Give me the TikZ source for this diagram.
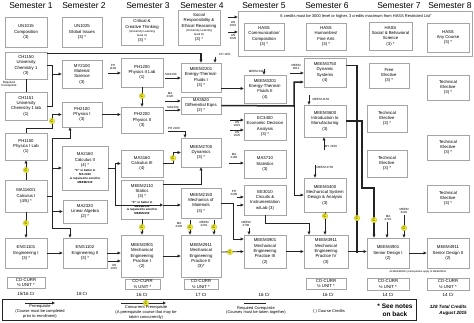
\documentclass[tikz,border=0pt]{standalone}
\usepackage{fontspec}
\setmainfont{Liberation Sans}
\usetikzlibrary{arrows.meta}
\definecolor{cyel}{RGB}{240,236,40}
\definecolor{bord}{RGB}{165,165,165}
\definecolor{lnc}{RGB}{35,35,35}
\newcommand\bx[6]{\node[box,minimum width={(#4-#2)*1pt},minimum height={(#5-#3)*1pt}] (#1) at ({(#2+#4)/2},{(#3+#5)/2}) {#6};}
\newcommand\sm[1]{{\fontsize{2.9}{3.3}\selectfont\bfseries #1}}
\newcommand\sx[1]{{\fontsize{2.9}{3.3}\selectfont #1}}
\begin{document}
\begin{tikzpicture}[x=1pt,y=-1pt,
 box/.style={draw=bord,line width=0.8pt,fill=white,align=center,inner sep=0pt,font=\fontsize{4.3}{5.3}\selectfont},
 ln/.style={draw=lnc,line width=0.8pt},
 arr/.style={ln,-{Triangle[length=3pt,width=2.8pt]}},
 thk/.style={line width=1.5pt},
 cc/.style={circle,fill=cyel,draw=cyel!80!black,line width=0.3pt,inner sep=0pt,minimum size=5.5pt,font=\fontsize{3.6}{4}\selectfont},
 lab/.style={font=\fontsize{3}{3.4}\selectfont,align=center,inner sep=0pt},
 hdr/.style={font=\fontsize{8.5}{10}\selectfont,inner sep=0pt},
 cr/.style={font=\fontsize{4.5}{5}\selectfont,inner sep=0pt},
 leg/.style={font=\fontsize{4}{4.9}\selectfont,align=center,inner sep=0pt}]
\useasboundingbox[fill=white] (0,0) rectangle (474,322);

% headers
\node[hdr] (h1) at (31,6) {Semester 1};
\node[hdr] (h2) at (84,6) {Semester 2};
\node[hdr] (h3) at (148,6) {Semester 3};
\node[hdr] (h4) at (202,6) {Semester 4};
\node[hdr] (h5) at (264,6) {Semester 5};
\node[hdr] (h6) at (327,6) {Semester 6};
\node[hdr] (h7) at (399,6) {Semester 7};
\node[hdr] (h8) at (450,6) {Semester 8};

% HASS group
\node[draw=bord,line width=0.8pt,minimum width=234pt,minimum height=45pt,inner sep=0pt] (hass) at (355,33.5) {};
\node[font=\fontsize{4}{5}\selectfont,inner sep=0pt] (hnote) at (356,16) {6 credits must be 3000 level or higher, 3 credits maximum from HASS Restricted List"};

% Semester 1
\bx{UN1015}{5}{17}{47}{47}{UN1015\\Composition\\(3)}
\bx{CH1150}{5}{52}{47}{79}{CH1150\\University\\Chemistry 1\\(3)}
\bx{CH1151}{5}{92}{47}{120}{CH1151\\University\\Chemistry 1 lab\\(1)}
\bx{PH1100}{5}{133}{47}{160}{PH1100\\Physics I Lab\\(1)}
\bx{MA1160}{5}{180}{47}{212}{MA1160/1\\Calculus I\\(4/5) *}
\bx{ENG1101}{5}{238}{47}{268}{ENG1101\\Engineering I\\(3) *}
\bx{CC1}{7}{277}{45}{288}{CO-CURR\\½ UNIT *}
% Semester 2
\bx{UN1025}{62}{17}{102}{47}{UN1025\\Global Issues\\(3) *}
\bx{MY2100}{62}{60}{102}{88}{MY2100\\Material\\Science\\(3)}
\bx{PH2100}{62}{102}{102}{127}{PH2100\\Physics I\\(3)}
\bx{MA2160}{62}{146}{108}{190}{MA2160\\Calculus II\\(4) *\\\sm{``C'' or better in}\\[-1.5pt]\sm{MA 2160}\\[-1.5pt]\sm{is required to enroll in}\\[-1.5pt]\sm{MEEM2110}}
\bx{MA2320}{63}{200}{107}{223}{MA2320\\Linear Algebra\\(2) *}
\bx{ENG1102}{63}{238}{107}{268}{ENG1102\\Engineering II\\(3) *}
% Semester 3
\bx{CCT}{121}{17}{163}{45}{Critical \&\\Creative Thinking\\[-1pt]\sx{(University Learning}\\[-1.5pt]\sx{Goal 4)}\\(3) *}
\bx{PH1200}{121}{58}{163}{87}{PH1200\\Physics II Lab\\(1)}
\bx{PH2200}{121}{107}{163}{133}{PH2200\\Physics II\\(3)}
\bx{MA3160}{121}{150}{163}{177}{MA3160\\Calculus III\\(4)}
\bx{MEEM2110}{121}{180}{163}{219}{MEEM2110\\Statics\\(3) *\\\sm{``C'' or better in}\\[-1.5pt]\sm{MEEM2110}\\[-1.5pt]\sm{is required to enroll in}\\[-1.5pt]\sm{MEEM2150}}
\bx{MEEM2901}{121}{235}{163}{277}{MEEM2901\\Mechanical\\Engineering\\Practice I\\(2)}
\bx{CC3}{125}{279}{160}{289}{CO-CURR\\½ UNIT *}
% Semester 4
\bx{SRE}{178}{10}{220}{45}{Social\\Responsibility \&\\Ethical Reasoning\\[-1pt]\sx{(University Learning}\\[-1.5pt]\sx{Goal 8)}\\(3) *}
\bx{MEEM2201}{181}{63}{221}{92}{MEEM2201\\Energy-Thermal-\\Fluids I\\(3) *}
\bx{MA3520}{181}{97}{221}{114}{MA3520\\[-0.6pt]Differential Eqns\\[-0.6pt](2) *}
\bx{MEEM2700}{181}{138}{221}{167}{MEEM2700\\Dynamics\\(3) *}
\bx{MEEM2150}{181}{188}{221}{218}{MEEM2150\\Mechanics of\\Materials\\(3) *}
\bx{MEEM2911}{181}{235}{221}{277}{MEEM2911\\Mechanical\\Engineering\\Practice II\\(3)*}
\bx{CC4}{184}{279}{218}{289}{CO-CURR\\½ UNIT *}
% Semester 5
\bx{HCC}{244}{23}{284}{50}{HASS\\Communication/\\Composition\\(3) *}
\bx{MEEM3201}{244}{75}{286}{103}{MEEM3201\\Energy-Thermal-\\Fluids II\\(4)}
\bx{EC3400}{244}{113}{286}{140}{EC3400\\Economic Decision\\Analysis\\(3) *}
\bx{MA3710}{244}{150}{286}{178}{MA3710\\Statistics\\(3)}
\bx{EE3010}{244}{185}{286}{215}{EE3010\\Circuits \&\\Instrumentation\\w/Lab (3)}
\bx{MEEM3901}{244}{235}{286}{268}{MEEM3901\\Mechanical\\Engineering\\Practice III\\(2)}
% Semester 6
\bx{HHF}{306}{23}{346}{50}{HASS\\Humanities/\\Fine Arts\\(3) *}
\bx{MEEM3750}{304}{58}{346}{87}{MEEM3750\\Dynamic\\Systems\\(4)}
\bx{MEEM3600}{304}{105}{346}{137}{MEEM3600\\Introduction to\\Manufacturing\\(3)}
\bx{MEEM3400}{304}{178}{346}{212}{MEEM3400\\Mechanical System\\Design \& Analysis\\(3)}
\bx{MEEM3911}{304}{235}{348}{268}{MEEM3911\\Mechanical\\Engineering\\Practice IV\\(3)}
\bx{CC6}{306}{278}{346}{289}{CO-CURR\\½ UNIT *}
% Semester 7
\bx{HSB}{369}{22}{412}{50}{HASS\\Social \& Behavioral\\Science\\(3) *}
\bx{FE}{369}{63}{409}{88}{Free\\Elective\\(3) *}
\bx{TE1}{367}{105}{407}{132}{Technical\\Elective\\(3) *}
\bx{TE2}{367}{150}{407}{177}{Technical\\Elective\\(3) *}
\bx{MEEM4901}{367}{238}{409}{268}{MEEM4901\\Senior Design I\\(2)}
\bx{CC7}{367}{278}{409}{290}{CO-CURR\\½ UNIT *}
% Semester 8
\bx{HAC}{427}{23}{469}{52}{HASS\\Any Course\\(3) *}
\bx{TE3}{427}{75}{469}{100}{Technical\\Elective\\(3) *}
\bx{TE4}{427}{135}{469}{160}{Technical\\Elective\\(3) *}
\bx{TE5}{427}{185}{469}{212}{Technical\\Elective\\(3) *}
\bx{MEEM4911}{427}{238}{469}{268}{MEEM4911\\Senior Design II\\(2)}
\bx{CC8}{427}{278}{469}{290}{CO-CURR\\½ UNIT *}

% credits
\node[cr] (cr1) at (26,294) {15/16 Cr};
\node[cr] (cr2) at (82,294) {18 Cr};
\node[cr] (cr3) at (142,295) {16 Cr};
\node[cr] (cr4) at (201,295) {17 Cr};
\node[cr] (cr5) at (264,295) {16 Cr};
\node[cr] (cr6) at (328,295) {16 Cr};
\node[cr] (cr7) at (388,295) {14 Cr};
\node[cr] (cr8) at (448,295) {14 Cr};

% small labels
\node[lab] (lrc) at (9,84) {Required\\Corequisite};
\node[lab] (lch) at (225,54) {CH 1151};
\node[lab] (lph11) at (113,67) {PH\\1100};
\node[lab] (lma1) at (171,74) {MA2160};
\node[lab] (lma2) at (170,95) {MA\\2320};
\node[lab] (lma3) at (173,107) {MA2160};
\node[lab] (lph21) at (174,128) {PH 2100};
\node[lab] (lun15) at (114,267) {UN\\1015};
\node[lab] (lun15b) at (233,24) {UN\\1015};
\node[lab] (lun25b) at (233,37) {UN\\1025};
\node[lab] (lm29) at (257,71) {MEEM 2911};
\node[lab] (lm29b) at (296,67) {MEEM\\2911};
\node[lab] (lec1) at (237,124) {UN\\1015};
\node[lab] (lec2) at (237,134) {UN\\1025};
\node[lab] (lma4) at (234,156) {MA\\2160};
\node[lab] (lph22) at (234,193) {PH\\2200};
\node[lab] (lm215) at (321,99) {MEEM 2150};
\node[lab] (lmy) at (331,146) {MY 2100};
\node[lab] (lm27) at (325,167) {MEEM 2700};
\node[lab] (lma5) at (179,225) {MA\\2320};
\node[lab] (lm22) at (204,224) {MEEM\\2201};
\node[lab] (lm27b) at (246,224) {MEEM\\2700};
\node[lab] (lma6) at (388,218) {MA\\3710};
\node[lab] (lm32) at (404,211) {MEEM\\3201};
\node[lab,font=\fontsize{2.6}{3}\selectfont] (lall) at (418,271.5) {All MEEM4901 prerequisites apply to MEEM4911};

% coordinates
\coordinate (bx1) at (52,0);
\coordinate (pch) at (215,57);
\coordinate (p1) at (26,128);
\coordinate (p2) at (52,128);
\coordinate (m1) at (52,138);
\coordinate (m2) at (70,138);
\coordinate (m3) at (52,228);
\coordinate (m4) at (70,228);
\coordinate (q0) at (115,0);
\coordinate (u1) at (108,261);
\coordinate (ph1) at (108,73);
\coordinate (r1) at (165,78);
\coordinate (r2) at (165,101);
\coordinate (r3) at (165,110);
\coordinate (s1) at (168,131);
\coordinate (s2) at (173,0);
\coordinate (t1) at (163,184);
\coordinate (t2) at (163,205);
\coordinate (k1) at (233,0);
\coordinate (k2) at (233,239);
\coordinate (g1) at (294,0);
\coordinate (g2) at (294,106);
\coordinate (e1) at (309,223);
\coordinate (v1) at (357,253);
\coordinate (w1) at (362,188);
\coordinate (w2) at (374,188);
\coordinate (z1) at (387,222);
\coordinate (z2) at (404,215);
\coordinate (a1) at (190,220);
\coordinate (a2) at (214,220);
\coordinate (a3) at (249,228);
\coordinate (hu1) at (228,17);
\coordinate (hu2) at (228,32);
\coordinate (ec1) at (230,120);
\coordinate (ec2) at (230,130);
\coordinate (ma7) at (229,163);
\coordinate (ee1) at (237,197);
\coordinate (ee2) at (237,205);
\coordinate (x1) at (264,69);
\coordinate (x2) at (290,73);
\coordinate (y1) at (309,95);
\coordinate (y2) at (324,150);
\coordinate (y3) at (315,165);

% connectors
\draw[arr,thk] ([yshift=-2pt]CH1150.north east) -| (MEEM2201.north);
\draw[arr] (pch) -- (pch |- MEEM2201.north);
\draw[ln] (CH1150.east) -| (bx1 |- CH1151.east) -- (CH1151.east);
\draw[arr] (MY2100.west -| bx1) -- (MY2100.west);
\draw[ln] (CH1150.south) -- (CH1151.north);
\draw[arr] (MA1160.north) -- (PH1100.south);
\draw[arr] (PH1100.north) -- (p1) -- (p2) -- (p2 |- PH2100.west) -- (PH2100.west);
\draw[ln] (MA1160.east) -- (MA1160.east -| m1);
\draw[ln] (m1) -- (m3);
\draw[arr] (m1) -- (m2) -- (m2 |- PH2100.south);
\draw[arr] (MA2160.west -| m1) -- (MA2160.west);
\draw[arr] (MA2320.west -| m1) -- (MA2320.west);
\draw[arr] (m3) -- (m4) -- (m4 |- ENG1102.north);
\draw[arr] (MA1160.south) -- (ENG1101.north);
\draw[arr] (ENG1101.east) -- (ENG1102.west);
\draw[arr] (ENG1102.east) -- (ENG1102.east -| MEEM2901.west);
\draw[arr] (u1) -- (u1 -| MEEM2901.west);
\draw[arr] (PH2100.east) -- (PH2100.east -| PH2200.west);
\draw[arr] (ph1) -- (ph1 -| PH1200.west);
\draw[arr] (PH1200.south) -- (PH2200.north);
\draw[ln] (MA2160.east) -- (MA2160.east -| q0);
\draw[ln] (q0 |- MA3160.west) -- (q0 |- t2);
\draw[arr] (q0 |- MA3160.west) -- (MA3160.west);
\draw[arr] (q0 |- t2) -- (t2);
\draw[arr] (r1) -- (r1 -| MEEM2201.west);
\draw[arr] (r2) -- (r2 -| MA3520.west);
\draw[arr] (r3) -- (r3 -| MA3520.west);
\draw[arr] (s1) -| ([xshift=-16pt]MEEM2700.north);
\draw[arr] (MA3160.east) -| (s2 |- MEEM2700.west) -- (MEEM2700.west);
\draw[arr] (t1) -| (MEEM2700.south);
\draw[arr] (t2) -- (t2 -| MEEM2150.west);
\draw[arr] (MEEM2110.south) -- (MEEM2901.north);
\draw[arr] (MEEM2901.east) -- (MEEM2911.west);
\draw[arr] (a1) -- (a1 |- MEEM2911.north);
\draw[arr] (a2) -- (a2 |- MEEM2911.north);
\draw[arr] ([yshift=4pt]MEEM2911.east) -- (MEEM3901.west);
\draw[arr] (MEEM2150.east) -| (k2) -- (k2 -| MEEM3901.west);
\draw[arr] (a3) -- (a3 |- MEEM3901.north);
\draw[arr] (MEEM3901.east) -- (MEEM3901.east -| MEEM3911.west);
\draw[arr] (EE3010.south) |- (e1) -- (e1 |- MEEM3911.north);
\draw[arr] (MEEM3400.south) -- (MEEM3400.south |- MEEM3911.north);
\draw[arr] (MEEM3911.east) -- (MEEM3911.east -| MEEM4901.west);
\draw[ln,thk] ([yshift=7pt]MEEM3750.east) -| (v1);
\draw[arr,thk] (MEEM3600.east) -| (w1) -- (w2) -- (w2 |- MEEM4901.north);
\draw[arr] (z1) -- (z1 |- MEEM4901.north);
\draw[arr] (z2) -- (z2 |- MEEM4901.north);
\draw[arr] (MEEM4901.east) -- (MEEM4911.west);
\draw[arr] (hu1) -- (hu1 -| hass.west);
\draw[arr] (hu2) -- (hu2 -| hass.west);
\draw[arr,thk] ([yshift=-11pt]MEEM2201.east) -- ([yshift=-11pt]MEEM2201.east -| MEEM3201.west);
\draw[arr] (x1) -- (x1 |- MEEM3201.north);
\draw[arr] (x2) -- (x2 -| MEEM3750.west);
\draw[arr,thk] (MA3520.east) -- (g2) -- (g2 |- 0,82) -- (MEEM3750.west |- 0,82);
\draw[arr] (g2) -- (g2 |- MEEM3400.west) -- (MEEM3400.west);
\draw[arr] (ec1) -- (ec1 -| EC3400.west);
\draw[arr] (ec2) -- (ec2 -| EC3400.west);
\draw[arr] (ma7) -- (ma7 -| MA3710.west);
\draw[arr] (ee1) -- (ee1 -| EE3010.west);
\draw[arr] (ee2) -- (ee2 -| EE3010.west);
\draw[arr] (y1) -- (y1 |- MEEM3600.north);
\draw[arr] (y2) -- (y2 |- MEEM3600.south);
\draw[arr] (y3) -- (y3 |- MEEM3400.north);

% concurrent markers
\node[cc] (c1) at (26,170) {C};
\node[cc] (c2) at (52,121) {C};
\node[cc] (c3) at (26,223) {C};
\node[cc] (c4) at (142,96) {C};
\node[cc] (c5) at (173,158) {C};
\node[cc] (c6) at (142,227) {C};
\node[cc] (c7) at (190,227) {C};
\node[cc] (c8) at (214,227) {C};
\node[cc] (c9) at (230,252) {C};
\node[cc] (c10) at (325,216) {C};
\node[cc] (c11) at (357,218) {C};
\node[cc] (c12) at (374,220) {C};
\node[cc] (c13) at (404,228) {C};

% legend
\node[draw=lnc,line width=0.9pt,minimum width=414pt,minimum height=21pt,inner sep=0pt] (legend) at (209,310) {};
\coordinate (lg1) at (25,303);
\coordinate (lg2) at (55,303);
\draw[arr] (lg1) -- (lg2);
\node[leg] (lt1) at (40,311.5) {Prerequisite\\(Course must be completed\\prior to enrollment)};
\coordinate (lg3) at (121,303);
\coordinate (lg4) at (166,303);
\draw[arr] (lg3) -- (lg4);
\node[cc] (lgc) at (146,303) {C};
\node[leg] (lt2) at (146,312.5) {Concurrent Prerequisite\\(A prerequisite course that may be\\taken concurrently)};
\coordinate (lg5) at (244,303);
\coordinate (lg6) at (266,303);
\draw[ln] (lg5) -- (lg6);
\node[leg] (lt3) at (256,310.5) {Required Corequisite\\(Courses must be taken together)};
\node[leg] (lt4) at (329,311) {( ) Course Credits};
\node[font=\fontsize{6.5}{8}\selectfont\bfseries,align=center,inner sep=0pt] (lt5) at (395,310) {* See notes\\on back};
\node[font=\fontsize{4.6}{5.8}\selectfont\bfseries\itshape,align=right,inner sep=0pt,anchor=east] (lt6) at (467,310) {128 Total Credits\\August 2015};
\end{tikzpicture}
\end{document}
